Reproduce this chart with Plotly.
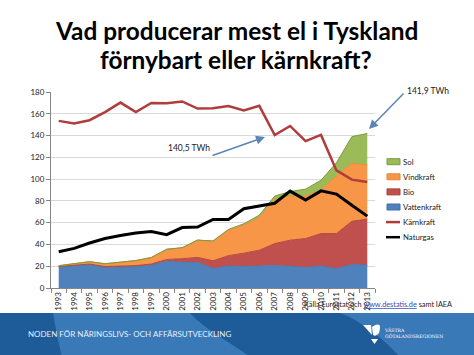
import plotly.graph_objects as go

years = [str(y) for y in range(1993, 2014)]
vattenkraft = [19.5, 20.5, 21.5, 19.0, 19.0, 19.5, 20.8, 24.6, 23.5, 23.5, 17.8,
               20.2, 19.8, 20.0, 20.6, 20.0, 18.8, 20.3, 17.6, 21.5, 21.0]
bio = [0.3, 0.4, 0.5, 0.7, 0.9, 1.1, 1.2, 1.6, 3.4, 4.6, 7.2,
       9.5, 12.2, 14.7, 20.2, 23.9, 26.6, 29.7, 32.4, 39.8, 42.3]
vindkraft = [0.7, 1.2, 2.2, 2.6, 3.7, 4.6, 6.0, 9.4, 10.1, 15.9, 18.0,
             23.5, 25.8, 30.0, 40.5, 40.7, 39.0, 40.0, 53.0, 53.1, 49.7]
sol = [0, 0, 0, 0, 0, 0, 0, 0, 0, 0, 0.2,
       0.6, 1.2, 2.2, 3.1, 4.0, 6.4, 9.0, 12.0, 24.6, 28.9]
karnkraft = [153.5, 151.2, 154.1, 161.6, 170.3, 161.6, 170.0, 169.6, 171.3, 164.8, 165.1,
             167.1, 163.0, 167.3, 140.5, 148.8, 134.9, 140.6, 108.0, 99.5, 97.3]
naturgas = [33.3, 36.4, 41.3, 45.5, 48.2, 50.6, 51.8, 49.0, 55.5, 56.0, 63.0,
            63.0, 72.8, 75.5, 77.8, 89.0, 80.7, 89.2, 86.2, 76.0, 66.0]
y_ticks = [0, 20, 40, 60, 80, 100, 120, 140, 160, 180]

W, H = 474, 355
L, R, T, B = 51, 99, 92, 67
PW, PH = W - L - R, H - T - B
FONT = "Lato"


def px(x):
    return (x - L) / PW


def py(y):
    return (H - B - y) / PH


fig = go.Figure()
areas = [
    ("Vattenkraft", vattenkraft, "#4F81BD", "#4A7AB5"),
    ("Bio", bio, "#C0504D", "#B5483F"),
    ("Vindkraft", vindkraft, "#F79646", "#EE8B3A"),
    ("Sol", sol, "#9BBB59", "#7E9A3C"),
]
for name, vals, col, lcol in areas:
    fig.add_trace(go.Scatter(x=years, y=vals, name=name, stackgroup="one",
                             mode="lines", line=dict(color=lcol, width=1),
                             fillcolor=col, showlegend=False))
fig.add_trace(go.Scatter(x=years, y=karnkraft, name="Kärnkraft", mode="lines",
                         line=dict(color="#B03C3C", width=2.5), showlegend=False))
fig.add_trace(go.Scatter(x=years, y=naturgas, name="Naturgas", mode="lines",
                         line=dict(color="#000000", width=3), showlegend=False))

shapes = []
ann = []

# legend (manual)
leg = [("Sol", "#9BBB59", "#7E9A3C", "area"),
       ("Vindkraft", "#F79646", "#E5863A", "area"),
       ("Bio", "#C0504D", "#A8403D", "area"),
       ("Vattenkraft", "#4F81BD", "#3F6FA8", "area"),
       ("Kärnkraft", "#B03C3C", None, "line"),
       ("Naturgas", "#000000", None, "line")]
ly0, lstep = 161.7, 15.1
for i, (nm, c, lc, kind) in enumerate(leg):
    yc = ly0 + i * lstep
    if kind == "area":
        shapes.append(dict(type="rect", xref="paper", yref="paper",
                           x0=px(387), x1=px(400), y0=py(yc + 3), y1=py(yc - 3),
                           fillcolor=c, line=dict(color=lc, width=1)))
    else:
        shapes.append(dict(type="line", xref="paper", yref="paper",
                           x0=px(386), x1=px(400), y0=py(yc), y1=py(yc),
                           line=dict(color=c, width=2.5)))
    ann.append(dict(text=nm, xref="paper", yref="paper", x=px(400.5), y=py(yc),
                    xanchor="left", yanchor="middle", showarrow=False,
                    font=dict(family=FONT, size=7.8, color="#222222")))

# banner
shapes.append(dict(type="rect", xref="paper", yref="paper", x0=px(-2), x1=px(W + 2),
                   y0=py(313), y1=py(H + 2), fillcolor="#1D5B99", line=dict(width=0),
                   layer="below"))
shapes.append(dict(type="path", xref="paper", yref="paper", layer="below",
                   path=("M {a},{b} L {c},{b} C {d},{e} {f},{g} {h},{i} L {j},{i} "
                         "C {k},{l} {m},{n} {a},{b} Z").format(
                       a=px(53), b=py(313), c=px(190), d=px(205), e=py(330),
                       f=px(235), g=py(345), h=px(250), i=py(H + 2), j=px(62),
                       k=px(58), l=py(340), m=px(55), n=py(325)),
                   fillcolor="#3A79B8", line=dict(width=0)))
shapes.append(dict(type="path", xref="paper", yref="paper", layer="below",
                   path=("M {a},{b} L {c},{b} L {c},{d} L {e},{d} "
                         "C {f},{g} {h},{i} {a},{b} Z").format(
                       a=px(340), b=py(313), c=px(W + 2), d=py(H + 2), e=px(400),
                       f=px(385), g=py(340), h=px(360), i=py(320)),
                   fillcolor="#3A79B8", line=dict(width=0)))
# logo
shapes.append(dict(type="path", xref="paper", yref="paper",
                   path="M {},{} L {},{} L {},{} Z".format(
                       px(363), py(325), px(371), py(325), px(372), py(335)),
                   fillcolor="white", line=dict(width=0)))
shapes.append(dict(type="path", xref="paper", yref="paper",
                   path="M {},{} Q {},{} {},{} Q {},{} {},{} Z".format(
                       px(372), py(327), px(383), py(320), px(379), py(333),
                       px(376), py(337), px(373), py(335)),
                   fillcolor="white", line=dict(width=0)))
shapes.append(dict(type="path", xref="paper", yref="paper",
                   path="M {},{} L {},{} L {},{} Z".format(
                       px(371), py(339), px(378), py(339), px(374.5), py(344)),
                   fillcolor="white", line=dict(width=0)))

ann += [
    dict(text="<b>Vad producerar mest el i Tyskland</b>", xref="paper", yref="paper",
         x=px(236), y=py(31), xanchor="center", yanchor="middle", showarrow=False,
         font=dict(family=FONT, size=24.4, color="#000000")),
    dict(text="<b>förnybart eller kärnkraft?</b>", xref="paper", yref="paper",
         x=px(236), y=py(59), xanchor="center", yanchor="middle", showarrow=False,
         font=dict(family=FONT, size=24.4, color="#000000")),
    dict(text="140,5 TWh", xref="paper", yref="paper", x=px(189), y=py(148),
         xanchor="center", yanchor="middle", showarrow=False,
         font=dict(family=FONT, size=8.5, color="#222222")),
    dict(text="", xref="paper", yref="paper", x=px(265), y=py(137),
         ax=-54, ay=19, showarrow=True, arrowhead=2, arrowsize=1.2, arrowwidth=1.5,
         arrowcolor="#5B84B8"),
    dict(text="141,9 TWh", xref="paper", yref="paper", x=px(428), y=py(91),
         xanchor="center", yanchor="middle", showarrow=False,
         font=dict(family=FONT, size=8.5, color="#222222")),
    dict(text="", xref="paper", yref="paper", x=px(369), y=py(129),
         ax=36, ay=-37, showarrow=True, arrowhead=2, arrowsize=1.2, arrowwidth=1.5,
         arrowcolor="#5B84B8"),
    dict(text="Källa Eurostat och <span style='color:#2B4FB8;text-decoration:underline'>"
              "www.destatis.de</span> samt IAEA",
         xref="paper", yref="paper", x=px(302), y=py(304), xanchor="left",
         yanchor="middle", showarrow=False,
         font=dict(family=FONT, size=7.3, color="#222222")),
    dict(text="NODEN FÖR NÄRINGSLIVS- OCH AFFÄRSUTVECKLING", xref="paper", yref="paper",
         x=px(26), y=py(334), xanchor="left", yanchor="middle", showarrow=False,
         font=dict(family=FONT, size=8, color="#E8EEF6")),
    dict(text="VÄSTRA<br>GÖTALANDSREGIONEN", xref="paper", yref="paper",
         x=px(382), y=py(333), xanchor="left", yanchor="middle", showarrow=False,
         align="left", font=dict(family="DejaVu Serif", size=4.6, color="#FFFFFF")),
]

fig.update_layout(
    width=W, height=H, autosize=False,
    margin=dict(l=L, r=R, t=T, b=B, pad=0),
    paper_bgcolor="white", plot_bgcolor="white",
    showlegend=False,
    shapes=shapes, annotations=ann,
    xaxis=dict(type="category", tickangle=-90, tickson="boundaries",
               ticks="outside", ticklen=4, tickcolor="#868686",
               showline=True, linecolor="#868686", linewidth=1,
               showgrid=False, range=[-0.5, 20.5],
               tickfont=dict(family=FONT, size=8, color="#222222")),
    yaxis=dict(range=[0, 180], tickvals=y_ticks, ticks="outside", ticklen=4,
               tickcolor="#868686", showline=True, linecolor="#868686",
               gridcolor="#D9D9D9", gridwidth=1, zeroline=False,
               tickfont=dict(family=FONT, size=8, color="#222222")),
)

fig.write_html("out.html", config={"displayModeBar": False},
               post_script="document.body.style.margin='0';"
                           "document.body.style.overflow='hidden';")
